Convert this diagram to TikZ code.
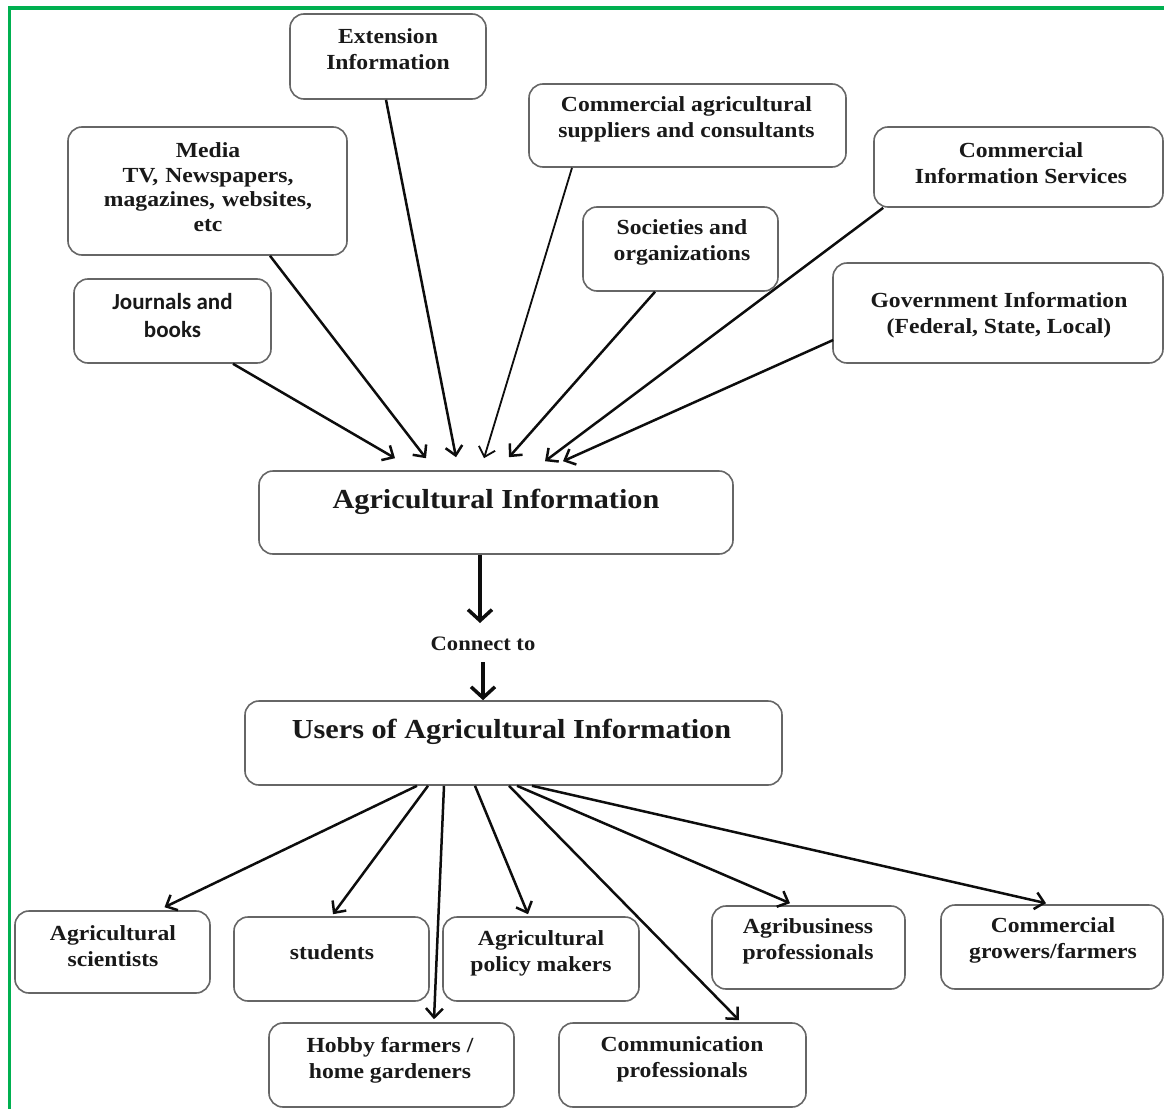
\documentclass[tikz,border=0pt]{standalone}
\usepackage{fontspec}
\setmainfont{Liberation Serif}[FakeStretch=1.1]
\newfontfamily\jfont{Carlito}
\usetikzlibrary{arrows.meta,calc}
\definecolor{framegreen}{HTML}{00B050}
\begin{document}
\begin{tikzpicture}[x=1pt,y=-1pt,
  box/.style={draw=black!60, line width=1.6pt, rounded corners=14pt, fill=white, inner sep=0pt},
  txt/.style={font=\bfseries\fontsize{21.5}{26}\selectfont, align=center, inner sep=0pt, text=black!90},
  jtxt/.style={font=\jfont\bfseries\fontsize{23}{28}\selectfont, align=center, inner sep=0pt, text=black!90},
  bigtxt/.style={font=\bfseries\fontsize{27.5}{32}\selectfont, inner sep=0pt, text=black!90},
  arr/.style={draw=black!95, line width=2.5pt, -{Straight Barb[length=9pt,width=17pt]}},
  bigarr/.style={draw=black!95, line width=3.5pt, -{Straight Barb[length=11pt,width=24pt]}},
  frame/.style={draw=framegreen, line width=3.5pt}]
\useasboundingbox (0,0) rectangle (1164,1108);
\draw[frame] (9.5,1112) -- (9.5,8) -- (1168,8);

% top source boxes
\node[box, minimum width=196pt, minimum height=85pt] (ext) at (388,56.5) {};
\node[txt] (extT) at (388,49) {Extension\\Information};
\node[box, minimum width=279pt, minimum height=128pt] (media) at (207.5,191) {};
\node[txt, text width=279pt, font=\bfseries\fontsize{21.5}{24.7}\selectfont] (mediaT) at (208,187) {Media\\TV, Newspapers,\\magazines, websites,\\etc};
\node[box, minimum width=197pt, minimum height=84pt] (jour) at (172.5,321) {};
\node[jtxt] (jourT) at (172.5,316) {Journals and\\books};
\node[box, minimum width=317pt, minimum height=83pt] (comagri) at (687.5,125.5) {};
\node[txt] (comagriT) at (686.5,119.5) {Commercial agricultural\\suppliers and consultants};
\node[box, minimum width=195pt, minimum height=84pt] (soc) at (680.5,249) {};
\node[txt] (socT) at (682,242.5) {Societies and\\organizations};
\node[box, minimum width=289pt, minimum height=80pt] (cis) at (1018.5,167) {};
\node[txt] (cisT) at (1021,163) {Commercial\\Information Services};
\node[box, minimum width=330pt, minimum height=100pt] (gov) at (998,313) {};
\node[txt] (govT) at (999,315) {Government Information\\(Federal, State, Local)};

% central boxes
\node[box, minimum width=474pt, minimum height=83pt] (ai) at (496,512.5) {};
\node[bigtxt] (aiT) at (496,502) {Agricultural Information};
\node[txt, font=\bfseries\fontsize{20.5}{24}\selectfont] (conn) at (483,644) {Connect to};
\node[box, minimum width=537pt, minimum height=84pt] (users) at (513.5,743) {};
\node[bigtxt] (usersT) at (511.5,732) {Users of Agricultural Information};

% user boxes
\node[box, minimum width=195pt, minimum height=82pt] (sci) at (112.5,952) {};
\node[txt] (sciT) at (113,946.5) {Agricultural\\scientists};
\node[box, minimum width=195pt, minimum height=84pt] (stu) at (331.5,959) {};
\node[txt] (stuT) at (332,952) {students};
\node[box, minimum width=196pt, minimum height=84pt] (pol) at (541,959) {};
\node[txt] (polT) at (541,953) {Agricultural\\policy makers};
\node[box, minimum width=245pt, minimum height=84pt] (hob) at (391.5,1065) {};
\node[txt] (hobT) at (390,1060) {Hobby farmers /\\home gardeners};
\node[box, minimum width=247pt, minimum height=84pt] (com) at (682.5,1065) {};
\node[txt] (comT) at (682,1059.5) {Communication\\professionals};
\node[box, minimum width=193pt, minimum height=83pt] (agb) at (808.5,947.5) {};
\node[txt] (agbT) at (808,941.5) {Agribusiness\\professionals};
\node[box, minimum width=222pt, minimum height=84pt] (cgf) at (1052,947) {};
\node[txt] (cgfT) at (1053,940.5) {Commercial\\growers/farmers};

% arrows into Agricultural Information
\draw[arr] ($(jour.south)+(60.5,0)$) -- ($(ai.north)+(-101,-12)$);
\draw[arr] ($(media.south)+(62.5,0)$) -- ($(ai.north)+(-70,-12)$);
\draw[arr] ($(ext.south)+(-2,0)$) -- ($(ai.north)+(-40,-13)$);
\draw[arr, line width=1.8pt] ($(comagri.south)+(-115.5,0)$) -- ($(ai.north)+(-12,-12)$);
\draw[arr] ($(soc.south)+(-25.5,0)$) -- ($(ai.north)+(13,-13)$);
\draw[arr] ($(cis.south west)+(10,0)$) -- ($(ai.north)+(49,-9)$);
\draw[arr] ($(gov.west)+(1,27)$) -- ($(ai.north)+(67,-9)$);

% central chain
\draw[bigarr] ($(ai.south)+(-16,0)$) -- ($(conn.center)+(-3,-21)$);
\draw[bigarr] ($(conn.center)+(0,18)$) -- (users.north -| conn.center);

% arrows to users
\draw[arr] ($(users.south)+(-96.5,0)$) -- ($(sci.north)+(52,-3)$);
\draw[arr] ($(users.south)+(-85.5,0)$) -- ($(stu.north)+(1.5,-2)$);
\draw[arr] ($(users.south)+(-69.5,0)$) -- ($(hob.north)+(42.5,-3)$);
\draw[arr] ($(users.south)+(-38.5,0)$) -- ($(pol.north)+(-13,-2)$);
\draw[arr] ($(users.south)+(-4.5,0)$) -- ($(com.north)+(56.5,-2)$);
\draw[arr] ($(users.south)+(3.5,0)$) -- ($(agb.north)+(-18.5,-2)$);
\draw[arr] ($(users.south)+(18.5,0)$) -- ($(cgf.north)+(-6,-1)$);
\end{tikzpicture}
\end{document}
